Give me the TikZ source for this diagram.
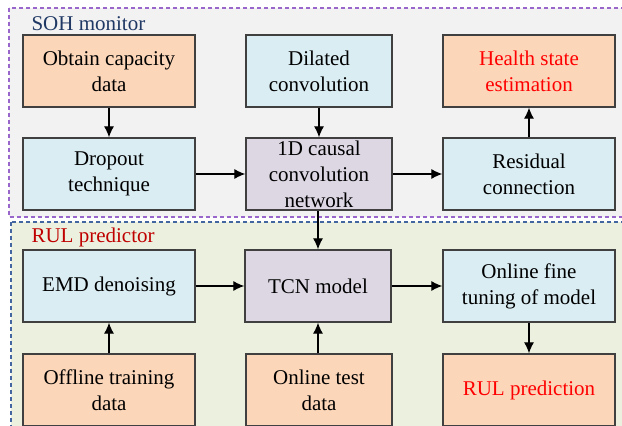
\documentclass[tikz,border=0pt]{standalone}
\usepackage{fontspec}
\setmainfont{Liberation Serif}
\newfontfamily\boxfont{Liberation Serif}
\usepackage{xcolor}
\usetikzlibrary{arrows.meta,positioning}
\definecolor{peach}{RGB}{251,214,185}
\definecolor{iceblue}{RGB}{218,237,243}
\definecolor{lilac}{RGB}{221,215,228}
\definecolor{sohback}{RGB}{242,242,242}
\definecolor{rulback}{RGB}{235,241,222}
\definecolor{sohline}{RGB}{153,102,204}
\definecolor{rulline}{RGB}{68,102,160}
\definecolor{boxline}{RGB}{64,64,64}
\definecolor{sohtext}{RGB}{31,56,100}
\definecolor{rultext}{RGB}{192,0,0}
\tikzset{
	>={Latex[length=11pt,width=10pt]},
	basic/.style={
			draw=boxline,
			line width=1.3pt,
			minimum width=172pt,
			minimum height=72pt,
			inner sep=0pt,
			align=center,
			font=\boxfont\fontsize{21}{26}\selectfont
		},
	narrow/.style={basic, minimum width=146pt},
	region/.style={line width=1.2pt, dash pattern=on 4pt off 3pt},
	flow/.style={->, line width=1.2pt}
}

\begin{document}
\begin{tikzpicture}[x=1pt,y=1pt]
			\useasboundingbox (0,0) rectangle (622,426);
			\clip (0,0) rectangle (622,426);

			\filldraw[region, draw=sohline, fill=sohback] (9,418) rectangle (640,209);
			\filldraw[region, draw=rulline, fill=rulback] (11,204) rectangle (640,-20);

			\node[anchor=base west, font=\boxfont\fontsize{21}{26}\selectfont, text=sohtext] at (28,395) (soh) {SOH monitor};
			\node[anchor=base west, font=\boxfont\fontsize{21}{26}\selectfont, text=rultext] at (28,183) (rul) {RUL predictor};

			\node[basic, fill=peach] at (109,355) (obtain) {Obtain capacity\\data};
			\node[narrow, fill=iceblue] at (319,355) (dilated) {Dilated\\convolution};
			\node[basic, fill=peach, text=red] at (529,355) (health) {Health state\\estimation};

			\node[basic, fill=iceblue] at (109,252) (dropout) {Dropout\\technique};
			\node[narrow, fill=lilac] at (319,252) (causal) {1D causal\\convolution\\network};
			\node[basic, fill=iceblue] at (529,252) (residual) {Residual\\connection};

			\node[basic, fill=iceblue] at (109,140) (emd) {EMD denoising};
			\node[narrow, fill=lilac] at (318,140) (tcn) {TCN model};
			\node[basic, fill=iceblue] at (529,140) (finetune) {Online fine\\tuning of model};

			\node[basic, fill=peach] at (109,36) (offline) {Offline training\\data};
			\node[narrow, fill=peach] at (319,36) (online) {Online test\\data};
			\node[basic, fill=peach, text=red] at (529,36) (rulpred) {RUL prediction};

			\draw[flow] (obtain) -- (dropout);
			\draw[flow] (dilated) -- (causal);
			\draw[flow] (dropout) -- (causal);
			\draw[flow] (causal) -- (residual);
			\draw[flow] (residual) -- (health);
			\draw[flow] (causal.south -| tcn.north) -- (tcn);

			\draw[flow] (emd) -- (tcn);
			\draw[flow] (offline) -- (emd);
			\draw[flow] (online.north -| tcn.south) -- (tcn);
			\draw[flow] (tcn) -- (finetune);
			\draw[flow] (finetune) -- (rulpred);
		\end{tikzpicture}
\end{document}
